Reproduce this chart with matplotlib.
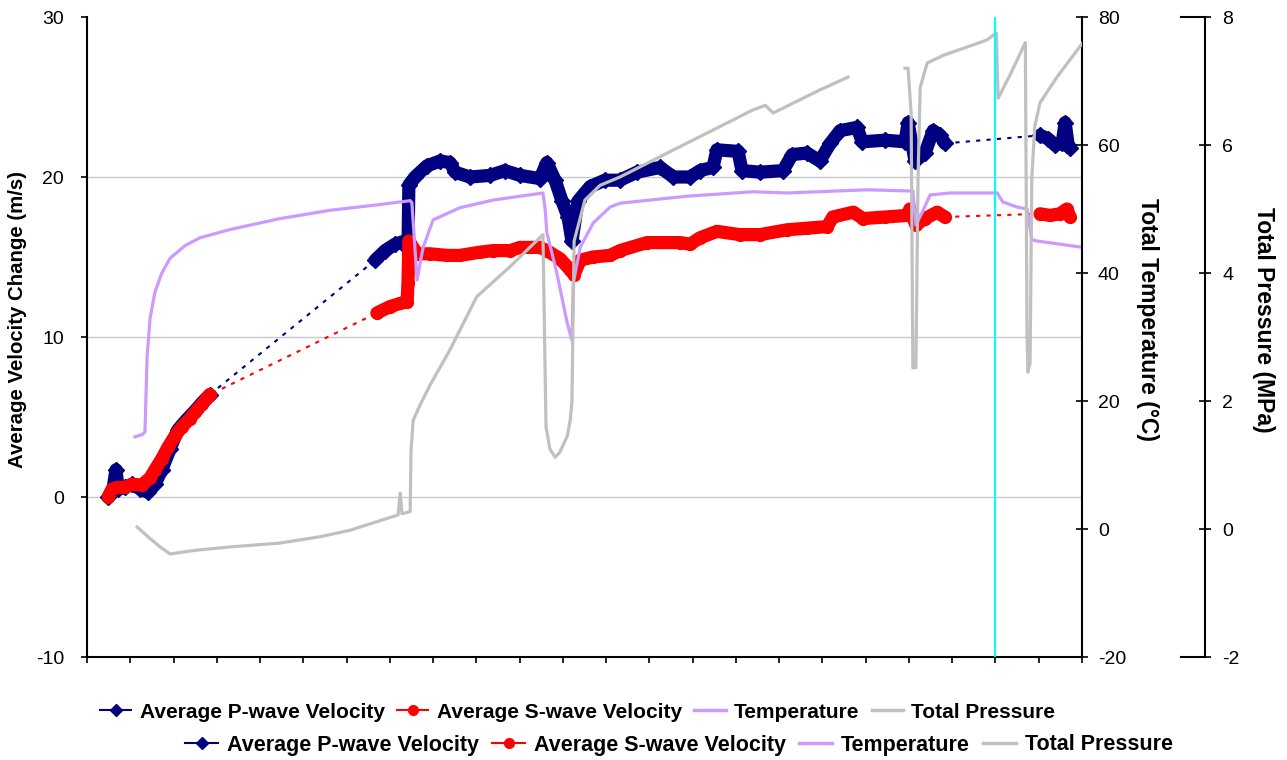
import numpy as np
import matplotlib
matplotlib.use("Agg")
import matplotlib.pyplot as plt
from matplotlib.lines import Line2D

plt.rcParams['font.family'] = ['Liberation Sans', 'DejaVu Sans']
plt.rcParams['axes.unicode_minus'] = False

# ---- data (x in elapsed-time units, one unit per x tick; None = no readings) ----
p_x = [0.49, 0.60, 0.67, 0.72, 0.88, 1.04, 1.23, 1.41, 1.57, 1.73, 1.92, 2.10, 2.29, 2.50, 2.66, 2.84,
       None,
       6.66, 6.89, 7.12, 7.35, 7.42, 7.44, 7.58, 7.86, 8.16, 8.39, 8.51, 8.85, 9.32, 9.66, 10.01,
       10.47, 10.63, 10.82, 10.98, 11.12, 11.21, 11.35, 11.63, 11.97, 12.32, 12.71, 13.25, 13.55,
       13.94, 14.17, 14.47, 14.56, 15.05, 15.14, 15.56, 16.09, 16.30, 16.64, 16.94, 17.18, 17.41,
       17.80, 17.92, 18.45, 18.91, 18.98, 19.14, 19.37, 19.56, 19.72, 19.83,
       None,
       22.03, 22.21, 22.38, 22.54, 22.61, 22.68, 22.72]
p_vel = [0.0, 0.5, 1.7, 0.5, 0.6, 0.8, 0.5, 0.3, 0.8, 1.7, 3.0, 4.2, 4.8, 5.4, 5.9, 6.4,
         None,
         14.8, 15.4, 15.8, 16.0, 15.5, 19.5, 20.0, 20.7, 21.0, 20.9, 20.3, 20.0, 20.1, 20.4, 20.1,
         19.9, 20.9, 19.8, 18.5, 17.5, 16.0, 18.5, 19.4, 19.8, 19.8, 20.3, 20.6, 20.0,
         20.0, 20.4, 20.6, 21.7, 21.6, 20.4, 20.3, 20.4, 21.4, 21.5, 21.0, 22.1, 22.9,
         23.1, 22.2, 22.3, 22.2, 23.4, 21.0, 21.5, 22.9, 22.6, 22.1,
         None,
         22.6, 22.4, 22.0, 22.1, 23.4, 22.0, 21.8]

s_x = [0.49, 0.58, 0.72, 0.88, 1.04, 1.27, 1.46, 1.57, 1.73, 1.87, 2.03, 2.20, 2.38, 2.50, 2.66, 2.84,
       None,
       6.70, 7.00, 7.24, 7.40, 7.42, 7.44, 7.63, 7.93, 8.32, 8.62, 9.08, 9.39, 9.78, 10.01, 10.47,
       10.63, 10.93, 11.17, 11.26, 11.40, 11.70, 12.09, 12.32, 12.94, 13.71, 13.94, 14.17, 14.56,
       15.09, 15.56, 16.18, 16.64, 17.11, 17.24, 17.71, 17.94, 18.45, 18.96, 19.02, 19.16, 19.37,
       19.65, 19.83,
       None,
       22.03, 22.26, 22.49, 22.65, 22.72]
s_vel = [0.0, 0.5, 0.6, 0.6, 0.8, 0.75, 1.2, 1.7, 2.4, 3.1, 3.8, 4.4, 4.9, 5.3, 5.8, 6.4,
         None,
         11.5, 11.9, 12.1, 12.2, 13.4, 16.0, 15.2, 15.2, 15.1, 15.1, 15.3, 15.4, 15.4, 15.6, 15.6,
         15.4, 14.9, 14.2, 13.9, 14.8, 15.0, 15.1, 15.4, 15.9, 15.9, 15.8, 16.2, 16.6,
         16.4, 16.4, 16.7, 16.8, 16.9, 17.5, 17.8, 17.4, 17.5, 17.6, 18.0, 17.0, 17.4,
         17.8, 17.5,
         None,
         17.7, 17.6, 17.7, 18.0, 17.5]

temp_x = [1.11, 1.29, 1.34, 1.39, 1.46, 1.57, 1.73, 1.92, 2.27, 2.61, 3.31, 4.46, 5.62, 6.77,
          7.47, 7.51, 7.63, 7.70, 7.77, 8.00, 8.62, 9.39, 10.54, 10.59, 10.63, 10.86, 11.10,
          11.21, 11.24, 11.40, 11.70, 12.09, 12.32, 13.87, 15.40, 16.18, 18.03, 19.09, 19.16,
          19.30, 19.49, 19.95, 21.04, 21.17, 21.50, 21.73, 21.84, 21.96, 23.02]
temp_c = [14.4, 14.8, 15.2, 27.0, 33.0, 37.0, 40.0, 42.3, 44.3, 45.5, 46.8, 48.5, 49.8, 50.7,
          51.3, 51.0, 38.9, 41.5, 44.0, 48.3, 50.2, 51.4, 52.5, 50.0, 46.3, 40.0, 32.2,
          29.5, 38.4, 44.0, 47.8, 50.3, 50.9, 52.0, 52.7, 52.5, 53.0, 52.8, 47.5,
          49.4, 52.2, 52.5, 52.5, 51.1, 50.3, 50.0, 45.2, 45.0, 44.0]

pres_x = [1.16, 1.46, 1.69, 1.92, 2.54, 3.31, 4.46, 5.39, 6.08, 7.19, 7.24, 7.28, 7.47, 7.49,
          7.54, 7.70, 7.93, 8.39, 9.01, 9.78, 10.54, 10.61, 10.70, 10.82, 10.93, 11.10, 11.17,
          11.21, 11.26, 11.51, 11.86, 12.32, 13.87, 15.40, 15.68, 15.86, 16.94, 17.59,
          None,
          18.91, 18.98, 19.05, 19.09, 19.16, 19.21, 19.26, 19.42, 19.79, 20.34, 20.80, 21.02,
          21.06, 21.34, 21.69, 21.73, 21.75, 21.80, 21.84, 21.91, 22.03, 22.42, 23.02]
pres_mpa = [0.03, -0.15, -0.28, -0.39, -0.33, -0.28, -0.22, -0.12, -0.02, 0.22, 0.56, 0.24, 0.27, 1.23,
            1.70, 1.94, 2.25, 2.80, 3.63, 4.10, 4.60, 1.60, 1.25, 1.12, 1.20, 1.45, 1.70,
            2.00, 4.50, 5.14, 5.37, 5.50, 6.03, 6.55, 6.62, 6.50, 6.86, 7.06,
            None,
            7.20, 7.20, 6.50, 2.52, 2.52, 5.50, 6.90, 7.28, 7.40, 7.53, 7.64, 7.75,
            6.73, 7.10, 7.60, 3.00, 2.45, 2.60, 5.50, 6.30, 6.66, 7.06, 7.60]

marker_time = 21  # cyan reference line

def arr(v):
    return np.array([np.nan if a is None else a for a in v], dtype=float)

navy, red, lilac, grey = '#000080', '#FF0000', '#CC99FF', '#C0C0C0'

fig = plt.figure(figsize=(12.87, 7.6), dpi=100)
ax = fig.add_axes([87 / 1287, 103 / 760, 995 / 1287, 640 / 760])
ax_t = ax.twinx()
ax_p = ax.twinx()
ax_p.spines['right'].set_position(('axes', (1205 - 87) / 995))

# velocity series: dense marker clouds, dotted across the gaps
for xs, ys, c, m in [(p_x, p_vel, navy, 'D'), (s_x, s_vel, red, 'o')]:
    x, y = arr(xs), arr(ys)
    ok = ~np.isnan(x)
    ax.plot(x[ok], y[ok], color=c, lw=1.5, ls=(0, (2, 3)), zorder=2)
    ax.plot(x, y, color=c, lw=9.5, solid_capstyle='round', solid_joinstyle='round', zorder=3)
    ax.plot(x, y, ls='none', marker=m, color=c, ms=8.5, zorder=3)

ax_t.plot(arr(temp_x), arr(temp_c), color=lilac, lw=2.3)
ax_p.plot(arr(pres_x), arr(pres_mpa), color=grey, lw=2.3)
ax_p.axvline(marker_time, color='#00FFFF', lw=1.5)

for g in [0, 10, 20]:
    ax.axhline(g, color='#C8C8C8', lw=1, zorder=0)

ax.set_xlim(0, 23)
ax.set_ylim(-10, 30)
ax_t.set_ylim(-20, 80)
ax_p.set_ylim(-2, 8)
ax.set_xticks(np.arange(0, 24))
ax.set_xticklabels([])
ax.set_yticks(np.arange(-10, 31, 10))
ax_t.set_yticks(np.arange(-20, 81, 20))
ax_p.set_yticks(np.arange(-2, 9, 2))

for a in (ax, ax_t, ax_p):
    for s in a.spines.values():
        s.set_visible(False)
    a.tick_params(labelsize=14, width=1.2, colors='black')
for side in ('left', 'bottom'):
    ax.spines[side].set_visible(True)
    ax.spines[side].set_linewidth(1.5)
ax_t.spines['right'].set_visible(True)
ax_t.spines['right'].set_linewidth(1.5)
ax_p.spines['right'].set_visible(True)
ax_p.spines['right'].set_linewidth(1.5)

ax.tick_params(axis='x', direction='out', length=4.5)
ax.tick_params(axis='y', direction='out', length=4.5, pad=12)
ax_t.tick_params(axis='y', direction='inout', length=9, pad=7)
ax_p.tick_params(axis='y', direction='inout', length=9, pad=8)
# end caps of the pressure axis
for v in ax_p.get_ylim():
    ax_p.plot([1.099, 1.1236], [v, v], color='black', lw=1.5,
              transform=ax_p.get_yaxis_transform(), clip_on=False)

fig.text(18 / 1287, 1 - 320 / 760, 'Average Velocity Change (m/s)', rotation=90,
         ha='center', va='center', fontsize=14.7, fontweight='bold')
fig.text(1148 / 1287, 1 - 320 / 760, 'Total Temperature (°C)', rotation=270,
         ha='center', va='center', fontsize=16.5, fontweight='bold')
fig.text(1263 / 1287, 1 - 320 / 760, 'Total Pressure (MPa)', rotation=270,
         ha='center', va='center', fontsize=16.5, fontweight='bold')

handles = [Line2D([], [], color=navy, marker='D', ms=6, lw=1.5),
           Line2D([], [], color=red, marker='o', ms=7, lw=1.5),
           Line2D([], [], color=lilac, lw=2.5),
           Line2D([], [], color=grey, lw=2.5)]
labels = ['Average P-wave Velocity', 'Average S-wave Velocity', 'Temperature', 'Total Pressure']
for x0, y0, fs, hl in [(100, 712, 15.0, 1.5), (185, 745, 15.5, 1.55)]:
    leg = fig.legend(handles, labels, loc='center left', bbox_to_anchor=(x0 / 1287, 1 - y0 / 760),
                     ncol=4, frameon=False, borderpad=0, borderaxespad=0, handlelength=hl,
                     handletextpad=0.4, columnspacing=0.6, prop={'weight': 'bold', 'size': fs})

fig.savefig('out.png', dpi=100)
